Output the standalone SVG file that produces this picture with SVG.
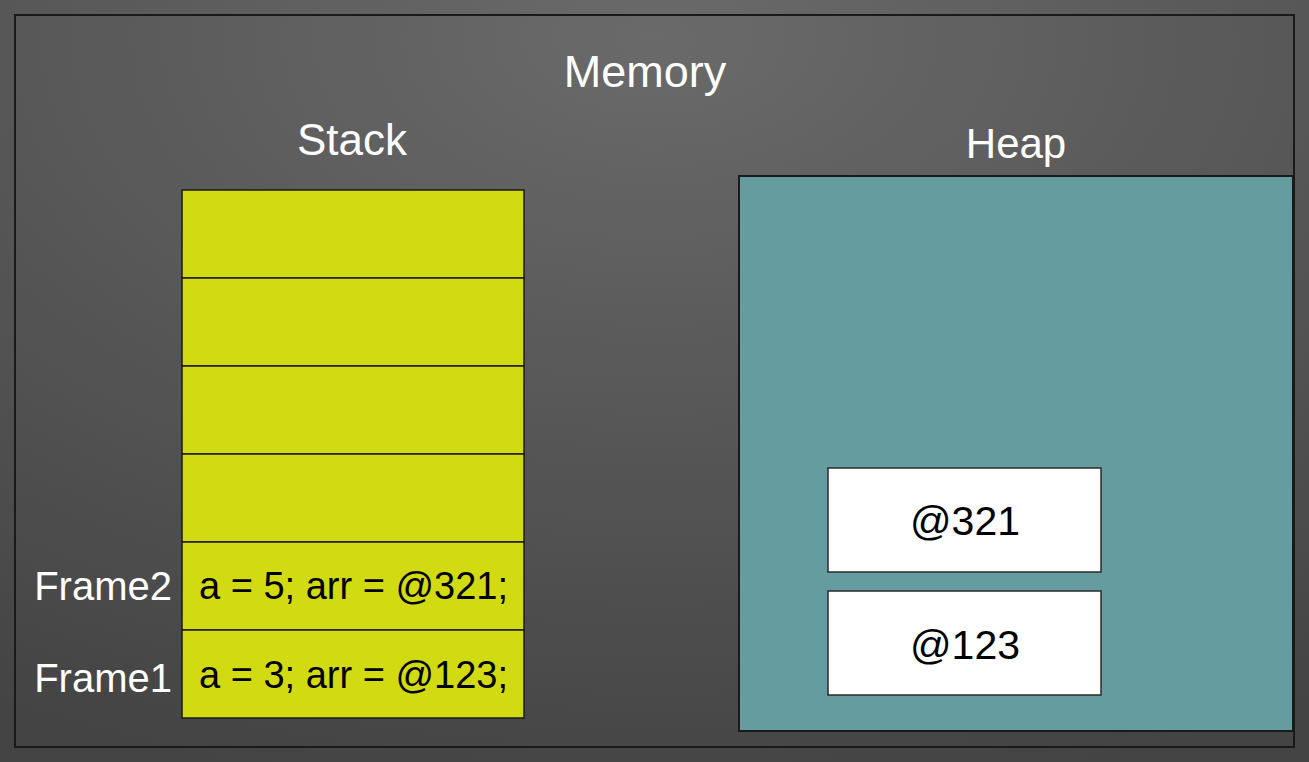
<svg xmlns="http://www.w3.org/2000/svg" width="1309" height="762" viewBox="0 0 1309 762">
<defs>
<radialGradient id="bg" cx="0.5" cy="0.05" r="1" gradientUnits="objectBoundingBox">
<stop offset="0" stop-color="#6a6a6a"/>
<stop offset="1" stop-color="#444444"/>
</radialGradient>
</defs>
<style>
text{font-family:"Liberation Sans",Arial,sans-serif}
.lbl{fill:#ffffff;font-size:40px}
.cell{fill:#d2da11;stroke:#1a1a1a;stroke-width:1.5}
.code{fill:#000;font-size:38px}
.obj{fill:#ffffff;stroke:#2a2a2a;stroke-width:1.5}
.addr{fill:#000;font-size:41px;text-anchor:middle}
</style>
<rect x="0" y="0" width="1309" height="762" fill="url(#bg)"/>
<g id="memory">
<rect x="15" y="15" width="1279" height="732" fill="none" stroke="#1a1a1a" stroke-width="2"/>
<text class="lbl" x="645" y="87" text-anchor="middle" style="font-size:45px">Memory</text>
</g>
<g id="stack">
<text class="lbl" x="352" y="155" text-anchor="middle" style="font-size:44px">Stack</text>
<rect class="cell" x="182" y="190" width="342" height="88"/>
<rect class="cell" x="182" y="278" width="342" height="88"/>
<rect class="cell" x="182" y="366" width="342" height="88"/>
<rect class="cell" x="182" y="454" width="342" height="88"/>
</g>
<g id="frame2">
<rect class="cell" x="182" y="542" width="342" height="88"/>
<text class="code" x="199" y="599">a = 5; arr = @321;</text>
<text class="lbl" x="172" y="600" text-anchor="end">Frame2</text>
</g>
<g id="frame1">
<rect class="cell" x="182" y="630" width="342" height="88"/>
<text class="code" x="199" y="688">a = 3; arr = @123;</text>
<text class="lbl" x="172" y="692" text-anchor="end">Frame1</text>
</g>
<g id="heap">
<text class="lbl" x="1016" y="158" text-anchor="middle" style="font-size:42px">Heap</text>
<rect x="739" y="176" width="554" height="555" fill="#659c9f" stroke="#1a1a1a" stroke-width="2"/>
</g>
<g id="obj321">
<rect class="obj" x="828" y="468" width="273" height="104"/>
<text class="addr" x="965" y="535">@321</text>
</g>
<g id="obj123">
<rect class="obj" x="828" y="591" width="273" height="104"/>
<text class="addr" x="965" y="659">@123</text>
</g>
<g id="connectors"/>
</svg>
